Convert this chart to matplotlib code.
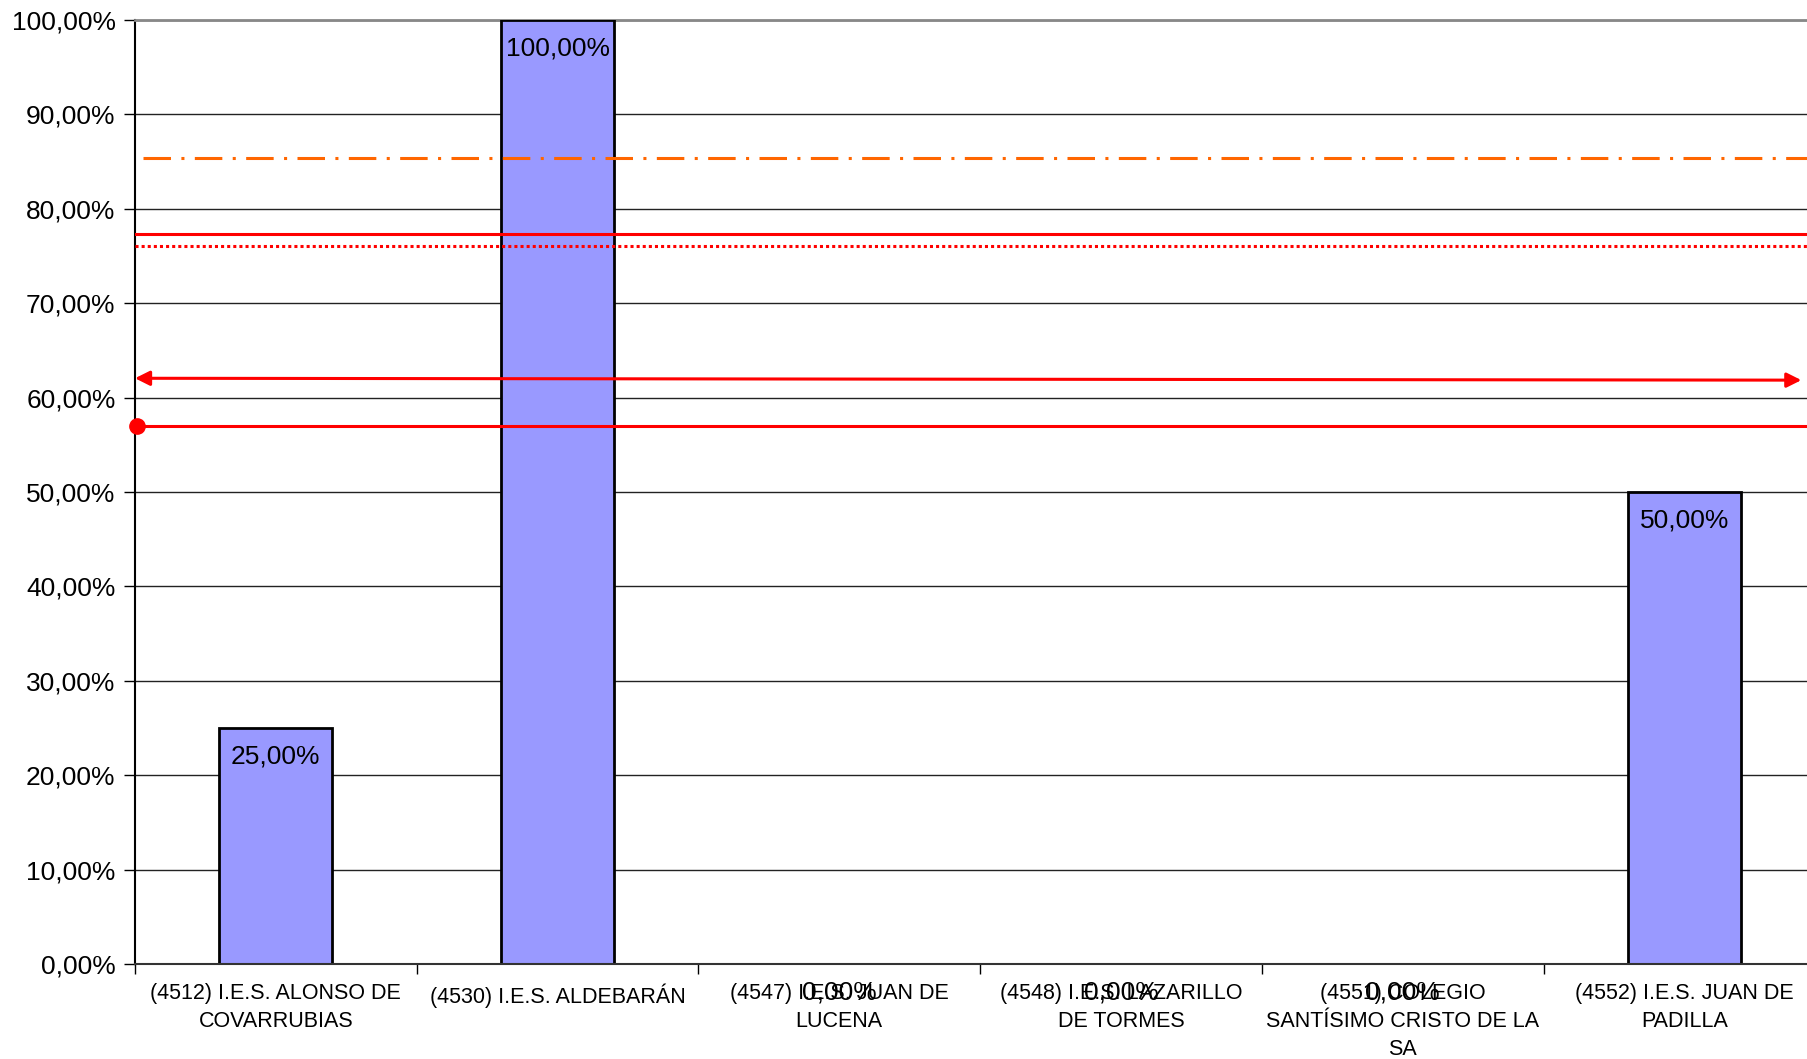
# Porcentaje por centro con líneas de referencia
import matplotlib.pyplot as plt
from matplotlib.ticker import FuncFormatter

centros = ['(4512) I.E.S. ALONSO DE\nCOVARRUBIAS',
           '(4530) I.E.S. ALDEBARÁN',
           '(4547) I.E.S. JUAN DE\nLUCENA',
           '(4548) I.E.S. LAZARILLO\nDE TORMES',
           '(4551) COLEGIO\nSANTÍSIMO CRISTO DE LA\nSA',
           '(4552) I.E.S. JUAN DE\nPADILLA']
valores = [25.0, 100.0, 0.0, 0.0, 0.0, 50.0]

# reference lines (percent)
ref_naranja = 85.4
ref_solida = 77.3
ref_punteada = 76.1
ref_flecha = [62.05, 61.85]   # left / right end
ref_punto = 57.0

plt.rcParams['font.family'] = ['Liberation Sans', 'DejaVu Sans']

fig = plt.figure(figsize=(18.07, 10.59), dpi=100)
ax = fig.add_axes([0.0747, 0.0897, 0.9253, 0.8914])

x = list(range(len(centros)))
xmin, xmax = -0.5, 5.435

ax.bar(x, valores, width=0.4, color='#9999FF', edgecolor='black', linewidth=2, zorder=3)

for xi, v in zip(x, valores):
    ax.annotate(('%.2f%%' % v).replace('.', ','), (xi, v), xytext=(0, -20.5),
                textcoords='offset points', ha='center', va='center', fontsize=19, zorder=5)

# reference lines
ax.plot([xmin + 0.03, xmax], [ref_naranja] * 2, color='#FF6600', lw=2.2,
        dashes=(9, 3.4, 1, 3.4), zorder=4)
ax.plot([xmin, xmax], [ref_solida] * 2, color='#FF0000', lw=2.2, zorder=4)
ax.plot([xmin, xmax], [ref_punteada] * 2, color='#FF0000', lw=2.2,
        dashes=(1, 1), dash_capstyle='butt', zorder=4)
ax.annotate('', xy=(xmax - 0.02, ref_flecha[1]), xytext=(xmin, ref_flecha[0]),
            arrowprops=dict(arrowstyle='<|-|>', color='#FF0000', lw=2.2,
                            mutation_scale=22, shrinkA=0, shrinkB=0), zorder=4)
ax.plot([xmin, xmax], [ref_punto] * 2, color='#FF0000', lw=2.2, zorder=4)
ax.plot([xmin + 0.007], [ref_punto], 'o', color='#FF0000', ms=11, zorder=6, clip_on=False)

ax.set_ylim(0, 100)
ax.set_yticks(range(0, 101, 10))
ax.yaxis.set_major_formatter(FuncFormatter(lambda v, p: ('%.2f%%' % v).replace('.', ',')))
ax.tick_params(axis='y', labelsize=19, length=8, width=1, pad=6)
ax.grid(axis='y', color='#222222', lw=1, zorder=0)

# category boundaries as ticks, names centred between them
ax.set_xticks([i + 0.5 for i in range(-1, 6)])
ax.set_xticklabels([])
ax.tick_params(axis='x', which='major', length=7, width=1)
ax.set_xticks(x, minor=True)
ax.set_xticklabels(centros, minor=True, fontsize=15.5, linespacing=1.42,
                   family=['Liberation Sans Narrow', 'Liberation Sans'])
ax.tick_params(axis='x', which='minor', length=0, pad=14)
ax.set_xlim(xmin, xmax)

ax.spines['right'].set_visible(False)
ax.spines['top'].set_color('#888888')
ax.spines['top'].set_linewidth(2)
ax.spines['left'].set_linewidth(1.5)
ax.spines['bottom'].set_linewidth(1.5)
ax.spines['bottom'].set_color('#333333')
ax.spines['bottom'].set_zorder(6)

fig.savefig('out.png', dpi=100)
